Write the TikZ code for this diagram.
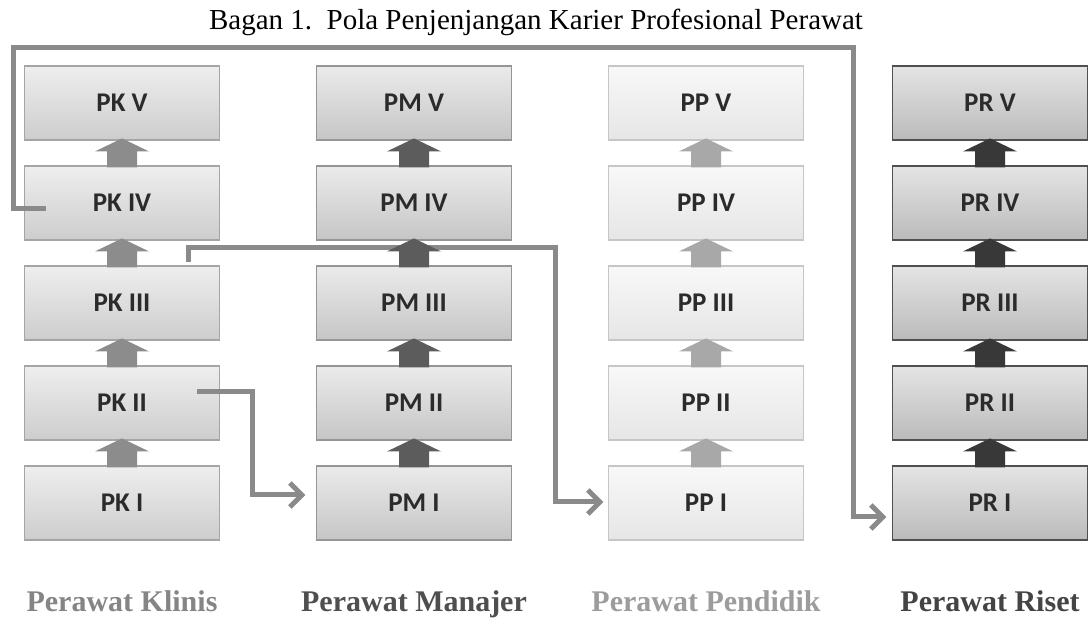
\documentclass[tikz,border=0pt]{standalone}
\usepackage{fontspec}
\setmainfont{Liberation Serif}
\newfontfamily\boxfont{Carlito}
\definecolor{Ktop}{HTML}{EEEEEE}\definecolor{Kbot}{HTML}{CDCDCD}\definecolor{Kdraw}{HTML}{A5A5A5}\definecolor{Karr}{HTML}{8C8C8C}
\definecolor{Mtop}{HTML}{EBEBEB}\definecolor{Mbot}{HTML}{C6C6C6}\definecolor{Mdraw}{HTML}{959595}\definecolor{Marr}{HTML}{5C5C5C}
\definecolor{Ptop}{HTML}{F8F8F8}\definecolor{Pbot}{HTML}{E6E6E6}\definecolor{Pdraw}{HTML}{C6C6C6}\definecolor{Parr}{HTML}{A8A8A8}
\definecolor{Rtop}{HTML}{E4E4E4}\definecolor{Rbot}{HTML}{BBBBBB}\definecolor{Rdraw}{HTML}{505050}\definecolor{Rarr}{HTML}{383838}
\definecolor{labK}{HTML}{858585}\definecolor{labM}{HTML}{4F4F4F}\definecolor{labP}{HTML}{9C9C9C}\definecolor{labR}{HTML}{444444}
\definecolor{textgray}{HTML}{2B2B2B}\definecolor{linkgray}{HTML}{8A8A8A}
\begin{document}
\begin{tikzpicture}[x=1pt, y=1pt,
	lvl/.style={draw, line width=1.2pt, minimum width=195pt, minimum height=74pt, inner sep=0pt, text=textgray, font=\boxfont\bfseries\fontsize{27}{30}\selectfont},
	link/.style={draw=linkgray, line width=5pt},
	colname/.style={anchor=base, font=\bfseries\fontsize{30}{34}\selectfont}]
				\useasboundingbox (0,0) rectangle (1092,618);
				\node[anchor=base, font=\fontsize{29}{32}\selectfont] (title) at (536,588) {Bagan 1.\ \ Pola Penjenjangan Karier Profesional Perawat};
				\foreach \c/\x/\tc/\bc/\dc in {K/122/Ktop/Kbot/Kdraw, M/414/Mtop/Mbot/Mdraw, P/706/Ptop/Pbot/Pdraw, R/990/Rtop/Rbot/Rdraw}{
					\foreach \i/\r in {1/I,2/II,3/III,4/IV,5/V}
						\node[lvl, top color=\tc, bottom color=\bc, draw=\dc] (\c\i) at (\x,15+100*\i) {P\c\ \r};}
				\coordinate (tipM) at ([shift={(-14pt,8pt)}]M1.west);
				\coordinate (tipP) at ([shift={(-8pt,1pt)}]P1.west);
				\coordinate (tipR) at ([shift={(-9pt,-14pt)}]R1.west);
				\draw[link] ([shift={(22pt,-6pt)}]K4.west) -| (13,570) -| (853,101) -- (tipR);
				\draw[link] ([shift={(66pt,3pt)}]K3.north) |- (555,370) |- (tipP);
				\draw[link] ([shift={(75pt,11pt)}]K2.center) -| (252,123) -- (tipM);
				\foreach \t in {tipM,tipP,tipR}
					\draw[link] ([shift={(-12,12)}]\t) -- (\t) -- ([shift={(-12,-12)}]\t);
				\foreach \c/\ac in {K/Karr, M/Marr, P/Parr, R/Rarr}{
					\foreach \i in {1,...,4}
						\fill[fill=\ac, shift={(\c\i.north)}] (-15,-2) -- (-15,14) -- (-27,14) -- (0,27) -- (27,14) -- (15,14) -- (15,-2) -- cycle;}
				\node[colname, text=labK] (labK) at (122,6) {Perawat Klinis};
				\node[colname, text=labM] (labM) at (414,6) {Perawat Manajer};
				\node[colname, text=labP] (labP) at (706,6) {Perawat Pendidik};
				\node[colname, text=labR] (labR) at (990,6) {Perawat Riset};
	\end{tikzpicture}
\end{document}
